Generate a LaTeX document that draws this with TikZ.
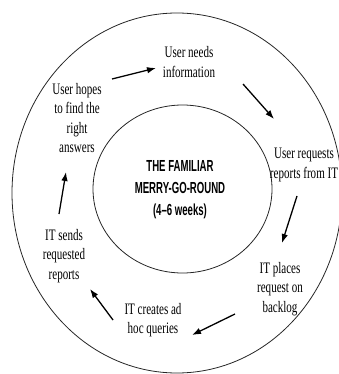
\documentclass[tikz,border=0pt]{standalone}
\usepackage{fontspec}
\newfontfamily\labelfont[FakeStretch=0.69]{Liberation Serif}
\newfontfamily\titlefont[FakeStretch=0.6]{Liberation Sans}
\usetikzlibrary{arrows.meta}
\begin{document}
\begin{tikzpicture}[x=1pt,y=-1pt,
  ring/.style={draw=black!85,line width=0.8pt},
  step label/.style={align=center,inner sep=0pt,
    font=\labelfont\fontsize{16}{19.5}\selectfont},
  flow/.style={-{Latex[length=9pt,width=6.5pt]},line width=1.3pt}]
\useasboundingbox (0,0) rectangle (339,374);
\clip (0,0) rectangle (339,374);
% the two rings
\draw[ring] (177,193) ellipse [x radius=165, y radius=180];
\draw[ring] (182.5,189) ellipse [x radius=89.5, y radius=84];
% title in the middle
\node[align=center,inner sep=0pt,
  font=\titlefont\bfseries\fontsize{16}{22}\selectfont] (title) at (180,190)
  {THE FAMILIAR\\MERRY-GO-ROUND\\(4–6 weeks)};
% the stages of the cycle
\node[step label] (needs)    at (189,62)  {User needs\\information};
\node[step label] (requests) at (304,165) {User requests\\reports from IT};
\node[step label] (places)   at (280,289) {IT places\\request on\\backlog};
\node[step label] (creates)  at (153,320) {IT creates ad\\hoc queries};
\node[step label] (sends)    at (64,256)  {IT sends\\requested\\reports};
\node[step label] (hopes)    at (77,118)  {User hopes\\to find the\\right\\answers};
% arrow end points
\coordinate (a1) at (112,79);  \coordinate (b1) at (156,68);
\coordinate (a2) at (243,84);  \coordinate (b2) at (274,119);
\coordinate (a3) at (297,196); \coordinate (b3) at (282,243);
\coordinate (a4) at (235,314); \coordinate (b4) at (192,335);
\coordinate (a5) at (113,320); \coordinate (b5) at (90,289);
\coordinate (a6) at (59,214);  \coordinate (b6) at (66,172);
\draw[flow] (a1) -- (b1);
\draw[flow] (a2) -- (b2);
\draw[flow] (a3) -- (b3);
\draw[flow] (a4) -- (b4);
\draw[flow] (a5) -- (b5);
\draw[flow] (a6) -- (b6);
\end{tikzpicture}
\end{document}
